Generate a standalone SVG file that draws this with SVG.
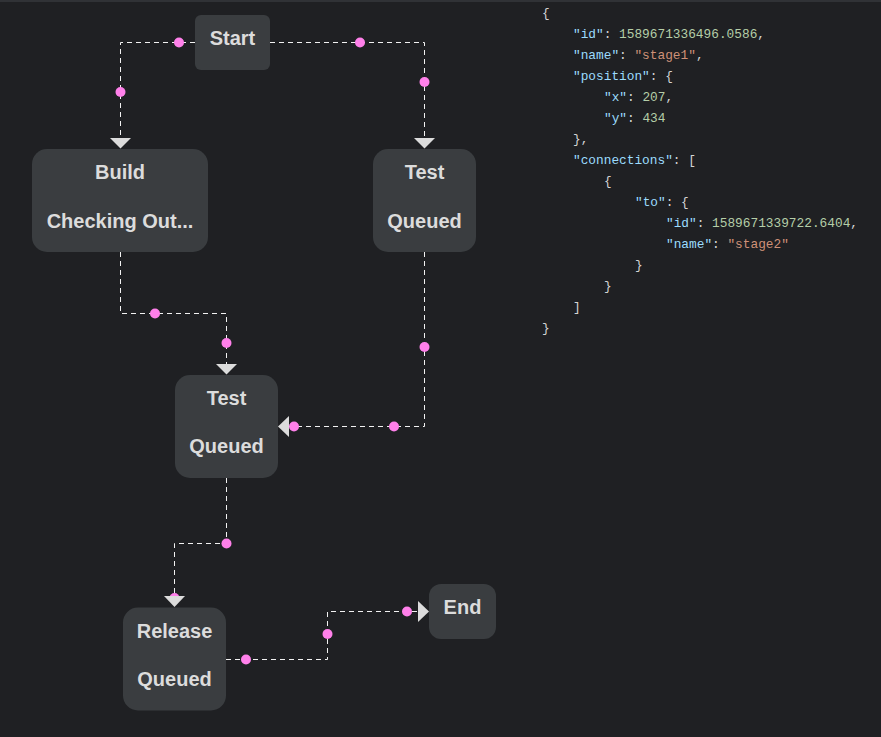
<svg xmlns="http://www.w3.org/2000/svg" width="881" height="737" viewBox="0 0 881 737">
<style>
.node rect{fill:#3a3d40}
.node text{font-family:"Liberation Sans",Arial,sans-serif;font-weight:bold;font-size:20px;fill:#dcdcdc;text-anchor:middle}
.conn path{fill:none;stroke:#f2f2f2;stroke-width:1;stroke-dasharray:5 4}
.conn circle{fill:#ff80ea}
.conn polygon{fill:#dcdcdc}
.json text{font-family:"Liberation Mono","DejaVu Sans Mono",monospace;font-size:12.8px;fill:#d4d4d4}
.k{fill:#9cdcfe}.n{fill:#b5cea8}.s{fill:#ce9178}
</style>
<rect x="0" y="0" width="881" height="737" fill="#1f2023"/>
<rect x="0" y="0" width="881" height="2" fill="#303236"/>

<g id="connectors" class="conn">
  <path d="M195,42.5 H120.5 V138"/>
  <path d="M270,42.5 H424.5 V138"/>
  <path d="M120.5,252 V313.5 H226.5 V364"/>
  <path d="M424.5,252 V426.5 H288"/>
  <path d="M226.5,478 V543.5 H174.5 V596"/>
  <path d="M226,659.5 H327.5 V611.5 H418"/>
  <circle cx="179" cy="42.5" r="5"/>
  <circle cx="120.5" cy="92" r="5"/>
  <circle cx="360" cy="42.5" r="5"/>
  <circle cx="424.5" cy="82" r="5"/>
  <circle cx="155" cy="313.5" r="5"/>
  <circle cx="226.5" cy="343" r="5"/>
  <circle cx="424.5" cy="347" r="5"/>
  <circle cx="394" cy="426.5" r="5"/>
  <circle cx="294" cy="426.5" r="5"/>
  <circle cx="226.5" cy="543.5" r="5"/>
  <circle cx="174.5" cy="598" r="5"/>
  <circle cx="246" cy="659.5" r="5"/>
  <circle cx="327.5" cy="634" r="5"/>
  <circle cx="407" cy="611.5" r="5"/>
  <polygon points="110,138 131,138 120.5,148.5"/>
  <polygon points="414,138 435,138 424.5,148.5"/>
  <polygon points="216,364 237,364 226.5,374.5"/>
  <polygon points="289,416 289,437 278,426.5"/>
  <polygon points="164,596 185,596 174.5,607"/>
  <polygon points="418,601 418,622 429,611.5"/>
</g>

<g id="start" class="node">
  <rect x="195" y="15" width="75" height="55" rx="6"/>
  <text x="232.5" y="45">Start</text>
</g>
<g id="build" class="node">
  <rect x="32" y="149" width="176" height="103" rx="15"/>
  <text x="120" y="179">Build</text>
  <text x="120" y="228">Checking Out...</text>
</g>
<g id="test-top" class="node">
  <rect x="373" y="149" width="103" height="103" rx="15"/>
  <text x="424.5" y="179">Test</text>
  <text x="424.5" y="228">Queued</text>
</g>
<g id="test-mid" class="node">
  <rect x="175" y="375" width="103" height="103" rx="15"/>
  <text x="226.5" y="405">Test</text>
  <text x="226.5" y="453">Queued</text>
</g>
<g id="release" class="node">
  <rect x="123" y="607.5" width="103" height="103" rx="15"/>
  <text x="174.5" y="638">Release</text>
  <text x="174.5" y="686">Queued</text>
</g>
<g id="end" class="node">
  <rect x="429" y="584" width="67" height="55" rx="12"/>
  <text x="462.5" y="614">End</text>
</g>

<g id="json" class="json">
  <text x="542" y="17">{</text>
  <text x="573" y="38"><tspan class="k">"id"</tspan>: <tspan class="n">1589671336496.0586</tspan>,</text>
  <text x="573" y="59"><tspan class="k">"name"</tspan>: <tspan class="s">"stage1"</tspan>,</text>
  <text x="573" y="80"><tspan class="k">"position"</tspan>: {</text>
  <text x="604" y="101"><tspan class="k">"x"</tspan>: <tspan class="n">207</tspan>,</text>
  <text x="604" y="122"><tspan class="k">"y"</tspan>: <tspan class="n">434</tspan></text>
  <text x="573" y="143">},</text>
  <text x="573" y="164"><tspan class="k">"connections"</tspan>: [</text>
  <text x="604" y="185">{</text>
  <text x="635" y="206"><tspan class="k">"to"</tspan>: {</text>
  <text x="666" y="227"><tspan class="k">"id"</tspan>: <tspan class="n">1589671339722.6404</tspan>,</text>
  <text x="666" y="248"><tspan class="k">"name"</tspan>: <tspan class="s">"stage2"</tspan></text>
  <text x="635" y="269">}</text>
  <text x="604" y="290">}</text>
  <text x="573" y="311">]</text>
  <text x="542" y="332">}</text>
</g>
</svg>
